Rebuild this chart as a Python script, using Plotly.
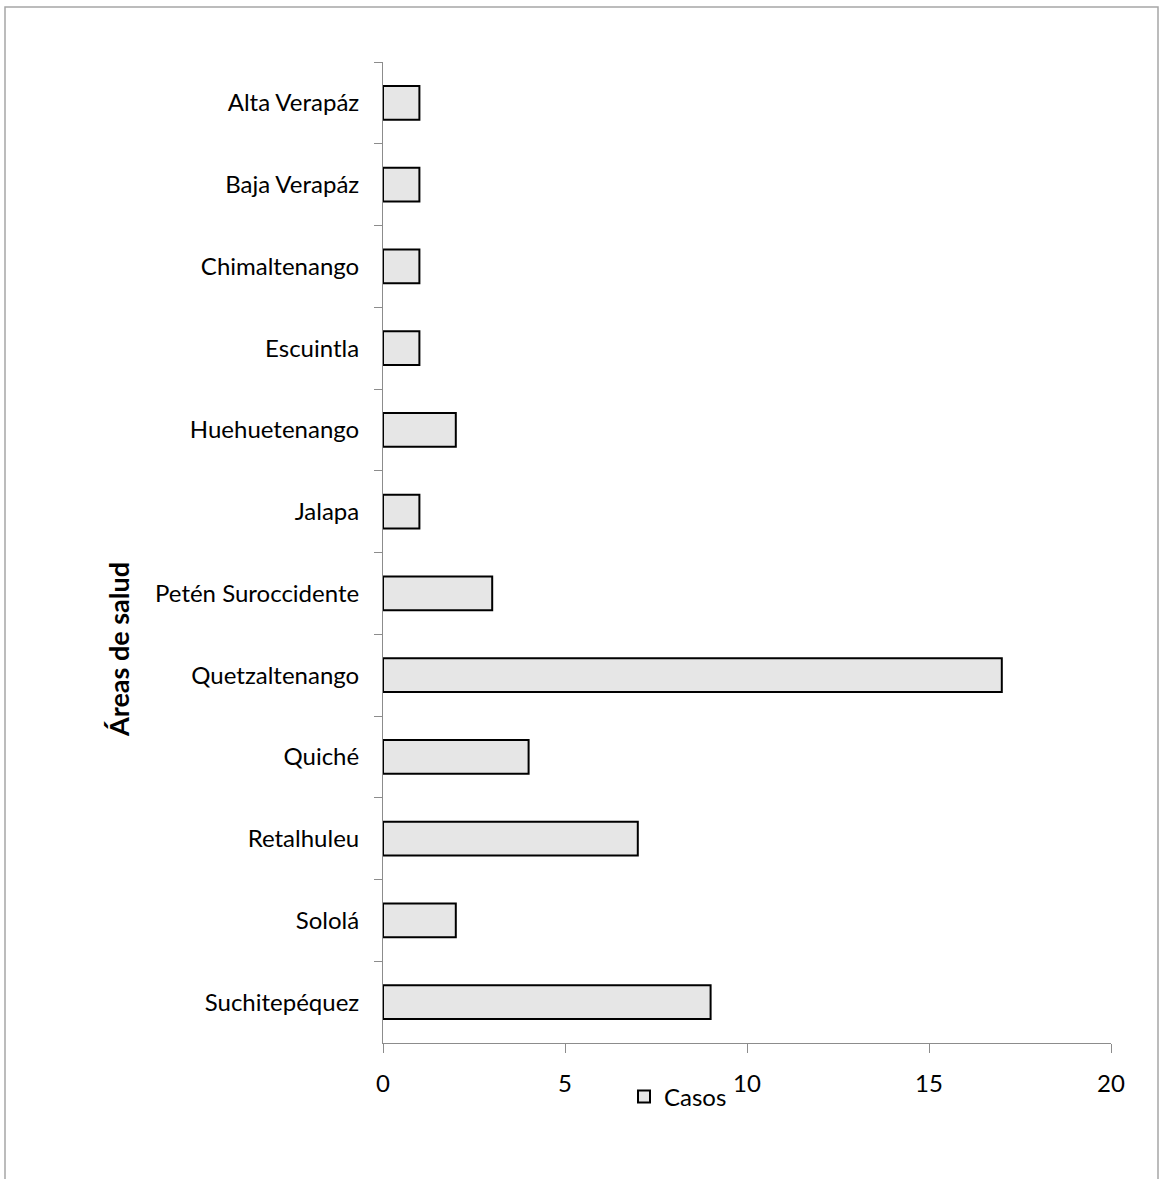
import plotly.graph_objects as go

# Casos por área de salud
areas = [
    "Alta Verapáz", "Baja Verapáz", "Chimaltenango", "Escuintla",
    "Huehuetenango", "Jalapa", "Petén Suroccidente", "Quetzaltenango",
    "Quiché", "Retalhuleu", "Sololá", "Suchitepéquez",
]
casos = [1, 1, 1, 1, 2, 1, 3, 17, 4, 7, 2, 9]
x_ticks = [0, 5, 10, 15, 20]

W, H = 1162, 1179
L, R, T, B = 383, 51, 62, 136
FONT = "Lato, Noto Sans, sans-serif"
AXIS_COLOR = "#8c8c8c"
PW, PH = W - L - R, H - T - B

fig = go.Figure()
fig.add_trace(go.Bar(
    x=casos,
    y=areas,
    orientation="h",
    name="Casos",
    marker=dict(color="#e6e6e6", line=dict(color="#000000", width=2)),
    showlegend=True,
))

fig.update_layout(
    width=W, height=H,
    margin=dict(l=L, r=R, t=T, b=B, pad=0),
    paper_bgcolor="white",
    plot_bgcolor="white",
    font=dict(family=FONT, size=24, color="#000000"),
    bargap=0.585,
    showlegend=True,
    legend=dict(
        orientation="h",
        x=(624 - L) / PW,
        y=-(1097 - (H - B)) / PH,
        xanchor="left", yanchor="middle",
        font=dict(family=FONT, size=24),
        itemwidth=30,
        bgcolor="rgba(0,0,0,0)",
    ),
    xaxis=dict(
        range=[0, 20],
        tickvals=x_ticks,
        ticks="outside", ticklen=9, tickcolor=AXIS_COLOR, tickwidth=1,
        showline=True, linecolor=AXIS_COLOR, linewidth=1,
        showgrid=False, zeroline=False,
        ticklabelstandoff=10,
    ),
    yaxis=dict(
        categoryorder="array", categoryarray=areas,
        autorange="reversed",
        ticks="outside", ticklen=8, tickcolor=AXIS_COLOR, tickwidth=1,
        tickson="boundaries",
        showline=True, linecolor=AXIS_COLOR, linewidth=1,
        showgrid=False, zeroline=False,
        ticklabelstandoff=18,
    ),
    shapes=[dict(
        type="rect", xref="paper", yref="paper",
        x0=(5 - L) / PW, x1=(1158 - L) / PW,
        y0=-(1200 - (H - B)) / PH, y1=((H - B) - 7) / PH,
        line=dict(color="#a6a6a6", width=1.5),
        fillcolor="rgba(0,0,0,0)", layer="below",
    )],
    annotations=[dict(
        text="<b>Áreas de salud</b>",
        xref="paper", yref="paper",
        x=(118 - L) / PW,
        y=((H - B) - 650) / PH,
        xanchor="center", yanchor="middle",
        textangle=-90, showarrow=False,
        font=dict(family=FONT, size=27, color="#000000"),
    )],
)

fig.write_html("out.html")
